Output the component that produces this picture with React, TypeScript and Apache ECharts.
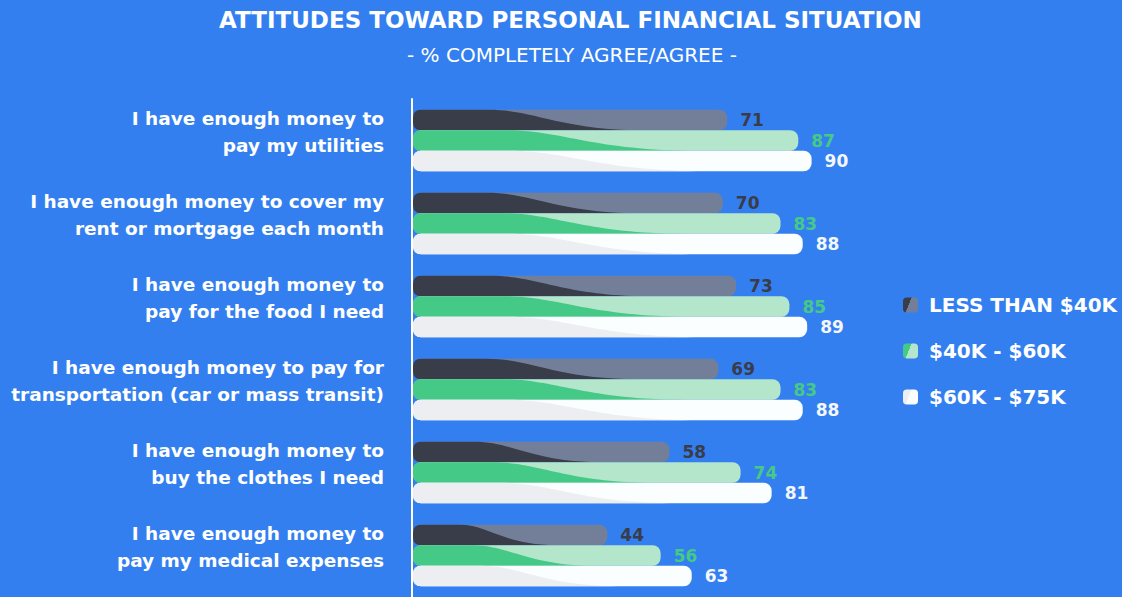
import React, { useEffect, useRef } from "react";
import * as echarts from "echarts";

const categories = [
  "I have enough money to\npay my utilities",
  "I have enough money to cover my\nrent or mortgage each month",
  "I have enough money to\npay for the food I need",
  "I have enough money to pay for\ntransportation (car or mass transit)",
  "I have enough money to\nbuy the clothes I need",
  "I have enough money to\npay my medical expenses",
];
const seriesNames = ["LESS THAN $40K", "$40K - $60K", "$60K - $75K"];
const lessThan40k = [71, 70, 73, 69, 58, 44];
const from40to60k = [87, 83, 85, 83, 74, 56];
const from60to75k = [90, 88, 89, 88, 81, 63];

const BG = "#347ff0";
const styles = [
  { dark: "#393c49", light: "#737f99", label: "#393c49", offset: -20.5 },
  { dark: "#45c987", light: "#b4e6cc", label: "#45c987", offset: 0 },
  { dark: "#eceef1", light: "#fafeff", label: "#f4f7fb", offset: 20.5 },
];

function makeRender(si: number) {
  const st = styles[si];
  return (params: any, api: any) => {
    const v = api.value(0);
    const c = api.value(1);
    const s = api.coord([0, c]);
    const e = api.coord([v, c]);
    const h = 20.5;
    const x0 = s[0] + 1;
    const w = e[0] - x0;
    const cy = s[1] + st.offset;
    const y0 = cy - h / 2;
    const r = 8;
    const xa = x0 + 0.24 * w;
    const xb = x0 + 0.74 * w;
    const d = xb - xa;
    const path =
      `M${x0 + r},${y0} L${xa},${y0} ` +
      `C${xa + 0.3 * d},${y0} ${xa + 0.45 * d},${y0 + h} ${xb},${y0 + h} ` +
      `L${x0 + r},${y0 + h} Q${x0},${y0 + h} ${x0},${y0 + h - r} ` +
      `L${x0},${y0 + r} Q${x0},${y0} ${x0 + r},${y0} Z`;
    const children: any[] = [
      {
        type: "rect",
        shape: { x: x0, y: y0, width: w, height: h, r },
        style: { fill: st.light },
      },
      {
        type: "path",
        shape: { pathData: path },
        style: { fill: st.dark },
      },
      {
        type: "text",
        x: e[0] + 13,
        y: cy,
        style: {
          text: String(v),
          fill: st.label,
          font: "bold 17px 'DejaVu Sans'",
          align: "left",
          verticalAlign: "middle",
          textAlign: "left",
          textVerticalAlign: "middle",
        },
      },
    ];
    if (si === 0) {
      children.push({
        type: "text",
        x: s[0] - 28,
        y: s[1] - 8.5,
        style: {
          text: categories[c],
          fill: "#ffffff",
          font: "bold 18.5px 'DejaVu Sans'",
          lineHeight: 27,
          align: "right",
          verticalAlign: "middle",
          textAlign: "right",
          textVerticalAlign: "middle",
        },
      });
    }
    return { type: "group", children };
  };
}

const App: React.FC = () => {
  const ref = useRef<HTMLDivElement>(null);
  useEffect(() => {
    document.body.style.margin = "0";
    document.body.style.background = BG;
    const chart = echarts.init(ref.current!, null, { renderer: "svg" });
    const all = [lessThan40k, from40to60k, from60to75k];
    chart.setOption({
      animation: false,
      backgroundColor: BG,
      title: [
        {
          text: "ATTITUDES TOWARD PERSONAL FINANCIAL SITUATION",
          left: 214,
          top: 3,
          textStyle: { color: "#ffffff", fontSize: 23, fontWeight: "bold", fontFamily: "DejaVu Sans" },
        },
        {
          text: "- % COMPLETELY AGREE/AGREE -",
          left: 402,
          top: 40,
          textStyle: { color: "#ffffff", fontSize: 20, fontWeight: "normal", fontFamily: "DejaVu Sans" },
        },
      ],
      legend: {
        orient: "vertical",
        left: 898,
        top: 290,
        itemWidth: 15,
        itemHeight: 15,
        itemGap: 26,
        icon: "roundRect",
        textStyle: { color: "#ffffff", fontSize: 20, fontWeight: "bold", fontFamily: "DejaVu Sans", padding: [0, 0, 0, 6] },
        data: seriesNames,
      },
      grid: { left: 412, top: 99, width: 444, height: 499, containLabel: false },
      xAxis: { type: "value", min: 0, max: 100, show: false },
      yAxis: {
        type: "category",
        inverse: true,
        data: categories,
        axisLine: { show: true, lineStyle: { color: "#ffffff", width: 2 } },
        axisTick: { show: false },
        axisLabel: { show: false },
      },
      series: all.map((vals, si) => ({
        type: "custom",
        name: seriesNames[si],
        renderItem: makeRender(si),
        encode: { x: 0, y: 1 },
        itemStyle: {
          color: new echarts.graphic.LinearGradient(0, 0, 1, 0.4, [
            { offset: 0, color: styles[si].dark },
            { offset: 0.5, color: styles[si].dark },
            { offset: 0.5, color: styles[si].light },
            { offset: 1, color: styles[si].light },
          ]),
        },
        data: vals.map((v, i) => [v, i]),
      })),
    });
    return () => chart.dispose();
  }, []);
  return <div ref={ref} style={{ width: 1122, height: 597 }} />;
};

export default App;
